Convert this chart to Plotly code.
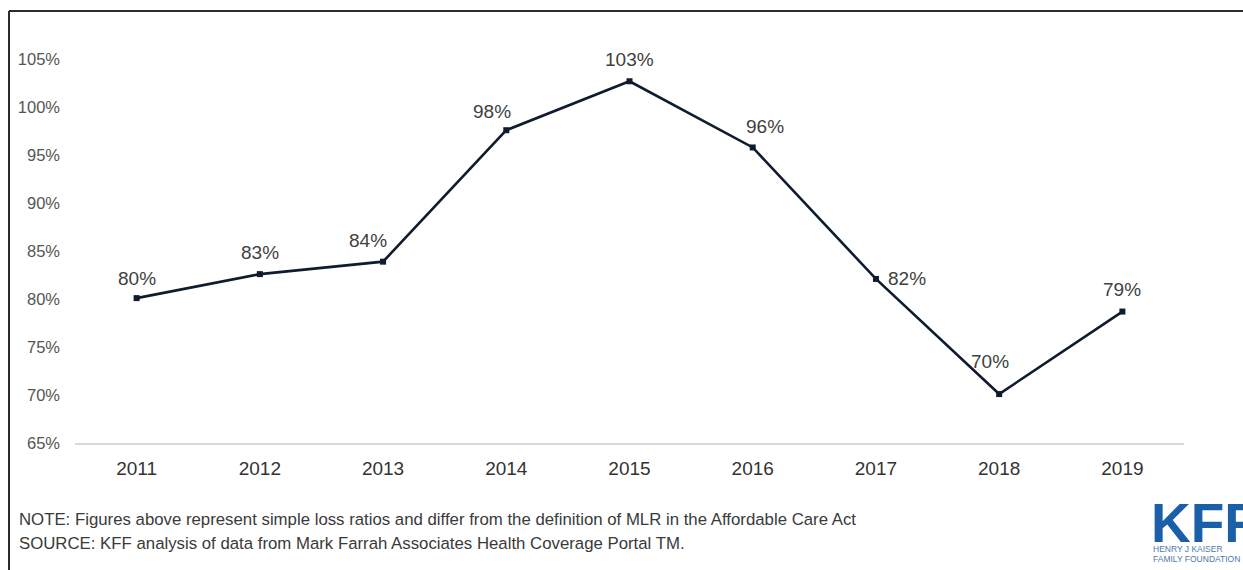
import plotly.graph_objects as go

# Simple loss ratios by year
years = ["2011", "2012", "2013", "2014", "2015", "2016", "2017", "2018", "2019"]
loss_ratio = [80.1, 82.6, 83.9, 97.6, 102.7, 95.8, 82.1, 70.1, 78.7]
y_ticks = [65, 70, 75, 80, 85, 90, 95, 100, 105]

# label placement (pixel shifts from each point)
label_dx = [0, 0, -15, -14, 0, 12, 31, -9, 0]
label_dy = [20, 22, 21, 19, 22, 21, 0, 33, 22]

W, H = 1243, 570
M_L, M_R, M_T, M_B = 75, 59, 40, 127
plot_w = W - M_L - M_R
plot_h = H - M_T - M_B
FONT = "Liberation Sans, Arial, sans-serif"

def px_x(px):
    return (px - M_L) / plot_w

def px_y(py):
    return (H - M_B - py) / plot_h

fig = go.Figure()
fig.add_trace(go.Scatter(
    x=years, y=loss_ratio, mode="lines+markers",
    line=dict(color="#0f1c2e", width=2.6),
    marker=dict(symbol="square", size=6, color="#0f1c2e"),
    hoverinfo="skip", showlegend=False,
))

# value labels; category positions are given by index on the category axis
annotations = []
for i, (v, dx, dy) in enumerate(zip(loss_ratio, label_dx, label_dy)):
    annotations.append(dict(
        x=i, y=v, xref="x", yref="y", text=f"{round(v)}%",
        showarrow=False, xshift=dx, yshift=dy,
        xanchor="center", yanchor="middle",
        font=dict(family=FONT, size=19, color="#404040"),
    ))

annotations += [
    dict(x=px_x(17), y=px_y(519), xref="paper", yref="paper", showarrow=False,
         xanchor="left", yanchor="middle",
         text="NOTE: Figures above represent simple loss ratios and differ from the definition of MLR in the Affordable Care Act",
         font=dict(family=FONT, size=16.8, color="#3a3a3a")),
    dict(x=px_x(17), y=px_y(543), xref="paper", yref="paper", showarrow=False,
         xanchor="left", yanchor="middle",
         text="SOURCE: KFF analysis of data from Mark Farrah Associates Health Coverage Portal TM.",
         font=dict(family=FONT, size=16.8, color="#3a3a3a")),
    # logo wordmark: box kept to the cap height so it does not cover the tagline
    dict(x=px_x(1149), y=px_y(523), xref="paper", yref="paper", showarrow=False,
         xanchor="left", yanchor="middle", valign="middle", height=44,
         text="<b>KFF</b>",
         font=dict(family="Liberation Sans Narrow, Arial Narrow, sans-serif", size=55, color="#1b5fa9")),
    dict(x=px_x(1151), y=px_y(548.5), xref="paper", yref="paper", showarrow=False,
         xanchor="left", yanchor="middle", text="HENRY J KAISER",
         font=dict(family=FONT, size=8.5, color="#4f79a8")),
    dict(x=px_x(1151), y=px_y(558.5), xref="paper", yref="paper", showarrow=False,
         xanchor="left", yanchor="middle", text="FAMILY FOUNDATION",
         font=dict(family=FONT, size=8.5, color="#4f79a8")),
]

shapes = [
    dict(type="line", xref="paper", yref="paper",
         x0=px_x(9), x1=px_x(9), y0=px_y(11), y1=px_y(575),
         line=dict(color="#2b2b2b", width=2)),
    dict(type="line", xref="paper", yref="paper",
         x0=px_x(9), x1=px_x(1250), y0=px_y(11), y1=px_y(11),
         line=dict(color="#2b2b2b", width=2)),
]

fig.update_layout(
    width=W, height=H,
    margin=dict(l=M_L, r=M_R, t=M_T, b=M_B),
    paper_bgcolor="white", plot_bgcolor="white",
    annotations=annotations, shapes=shapes,
    xaxis=dict(
        type="category", range=[-0.5, 8.5],
        showgrid=False, zeroline=False,
        showline=True, linecolor="#d9d9d9", linewidth=1.5,
        ticks="", tickfont=dict(family=FONT, size=19, color="#333333"),
        ticklabelstandoff=7,
    ),
    yaxis=dict(
        range=[65, 107], tickvals=y_ticks, ticktext=[f"{t}%" for t in y_ticks],
        showgrid=False, zeroline=False, showline=False, ticks="",
        tickfont=dict(family=FONT, size=16.5, color="#555555"),
        ticklabelstandoff=14,
    ),
)

fig.write_html("out.html")
